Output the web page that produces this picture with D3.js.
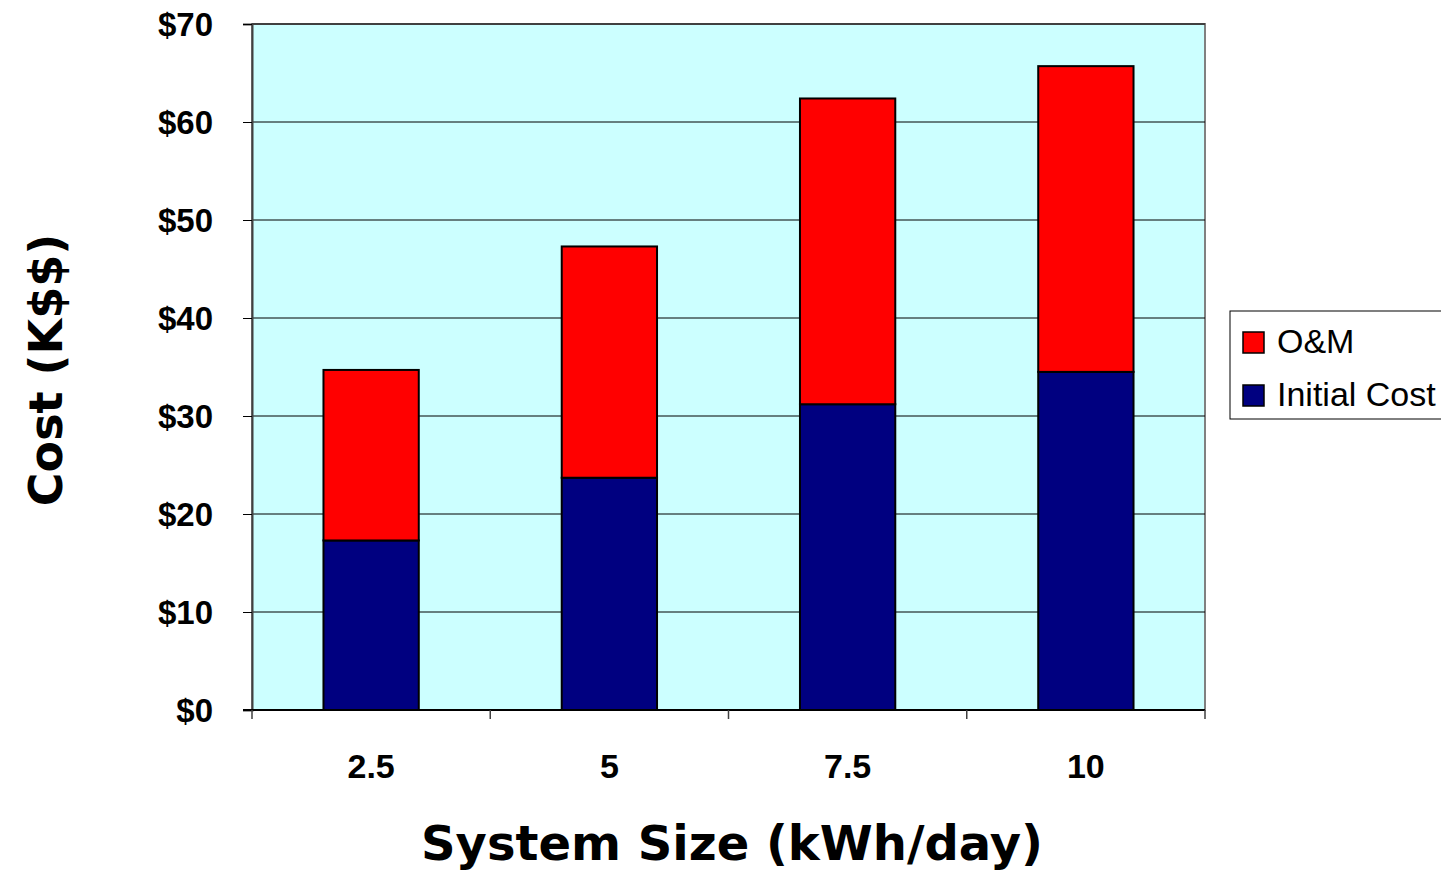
<!DOCTYPE html>
<meta charset="utf-8">
<style>
body { margin: 0; background: #fff; }
.tick text { font-family: Arial, "Liberation Sans", sans-serif; font-weight: bold; fill: #000; }
.title { font-family: "Comic Sans MS", "DejaVu Sans", sans-serif; font-weight: bold; fill: #000; }
.legend text { font-family: Arial, "Liberation Sans", sans-serif; font-size: 34px; fill: #000; }
</style>
<body>
<svg id="chart" width="1441" height="872"></svg>
<script src="https://d3js.org/d3.v7.min.js"></script>
<script>
// system sizes (kWh/day)
var sizes = ["2.5", "5", "7.5", "10"];
// cost in K$
var initialCost = [17.3, 23.7, 31.2, 34.5];
var omCost = [17.4, 23.6, 31.2, 31.2];
var yTicks = [0, 10, 20, 30, 40, 50, 60, 70];

var margin = {top: 24, left: 252, right: 236, bottom: 162};
var width = 1441 - margin.left - margin.right,
    height = 872 - margin.top - margin.bottom;

var svg = d3.select("#chart");
var g = svg.append("g").attr("transform", "translate(" + margin.left + "," + margin.top + ")");

var x = d3.scaleBand().domain(sizes).range([0, width]).paddingInner(0.6).paddingOuter(0.3);
var xBand = d3.scaleBand().domain(sizes).range([0, width]);
var y = d3.scaleLinear().domain([0, 70]).range([height, 0]);

// plot background
g.append("rect")
    .attr("width", width).attr("height", height)
    .attr("fill", "#ccffff").attr("stroke", "#808080").attr("stroke-width", 2);

// gridlines
g.selectAll(".grid").data(yTicks.slice(1)).enter().append("line")
    .attr("x1", 0).attr("x2", width)
    .attr("y1", d => y(d)).attr("y2", d => y(d))
    .attr("stroke", "#000").attr("stroke-width", 1);

var data = sizes.map(function(s, i) {
  return {size: s, init: initialCost[i], om: omCost[i]};
});

var bars = g.selectAll(".bar").data(data).enter().append("g");
bars.append("rect")
    .attr("x", d => x(d.size)).attr("width", x.bandwidth())
    .attr("y", d => y(d.init)).attr("height", d => y(0) - y(d.init))
    .attr("fill", "#000080").attr("stroke", "#000").attr("stroke-width", 2);
bars.append("rect")
    .attr("x", d => x(d.size)).attr("width", x.bandwidth())
    .attr("y", d => y(d.init + d.om)).attr("height", d => y(d.init) - y(d.init + d.om))
    .attr("fill", "#ff0000").attr("stroke", "#000").attr("stroke-width", 2);

// y axis
var yAxis = g.append("g")
    .call(d3.axisLeft(y).tickValues(yTicks).tickSize(9).tickPadding(30).tickFormat(d => "$" + d));
yAxis.select(".domain").attr("stroke", "#404040").attr("stroke-width", 2);
yAxis.selectAll(".tick line").attr("stroke", "#000");
yAxis.selectAll(".tick text").attr("dy", "0.36em").attr("font-size", 33);

// x axis: ticks on band boundaries
var xAxis = g.append("g").attr("transform", "translate(0," + height + ")");
xAxis.append("line").attr("x1", -9).attr("x2", width).attr("stroke", "#000").attr("stroke-width", 2);
var bounds = sizes.map(s => xBand(s)).concat([width]);
xAxis.selectAll(".bt").data(bounds).enter().append("line")
    .attr("x1", d => d).attr("x2", d => d).attr("y1", 0).attr("y2", 9)
    .attr("stroke", "#404040").attr("stroke-width", 1.5);
xAxis.selectAll(".tick").data(sizes).enter().append("g").attr("class", "tick")
  .append("text")
    .attr("x", d => xBand(d) + xBand.bandwidth() / 2)
    .attr("y", 68).attr("text-anchor", "middle").attr("font-size", 34)
    .text(d => d);

// axis titles
svg.append("text").attr("class", "title")
    .attr("transform", "translate(62,370) rotate(-90)")
    .attr("text-anchor", "middle").attr("font-size", 46)
    .text("Cost (K$$)");
svg.append("text").attr("class", "title")
    .attr("x", 732).attr("y", 860)
    .attr("text-anchor", "middle").attr("font-size", 48)
    .text("System Size (kWh/day)");

// legend
var legend = svg.append("g").attr("class", "legend");
legend.append("rect")
    .attr("x", 1230).attr("y", 311).attr("width", 220).attr("height", 108)
    .attr("fill", "#fff").attr("stroke", "#000").attr("stroke-width", 1);
var legItems = [{name: "O&M", color: "#ff0000"}, {name: "Initial Cost", color: "#000080"}];
var li = legend.selectAll(".li").data(legItems).enter().append("g")
    .attr("transform", (d, i) => "translate(1243," + (332 + i * 53) + ")");
li.append("rect").attr("width", 21).attr("height", 21)
    .attr("fill", d => d.color).attr("stroke", "#000").attr("stroke-width", 1.5);
li.append("text").attr("x", 34).attr("y", 21).text(d => d.name);
</script>
</body>
